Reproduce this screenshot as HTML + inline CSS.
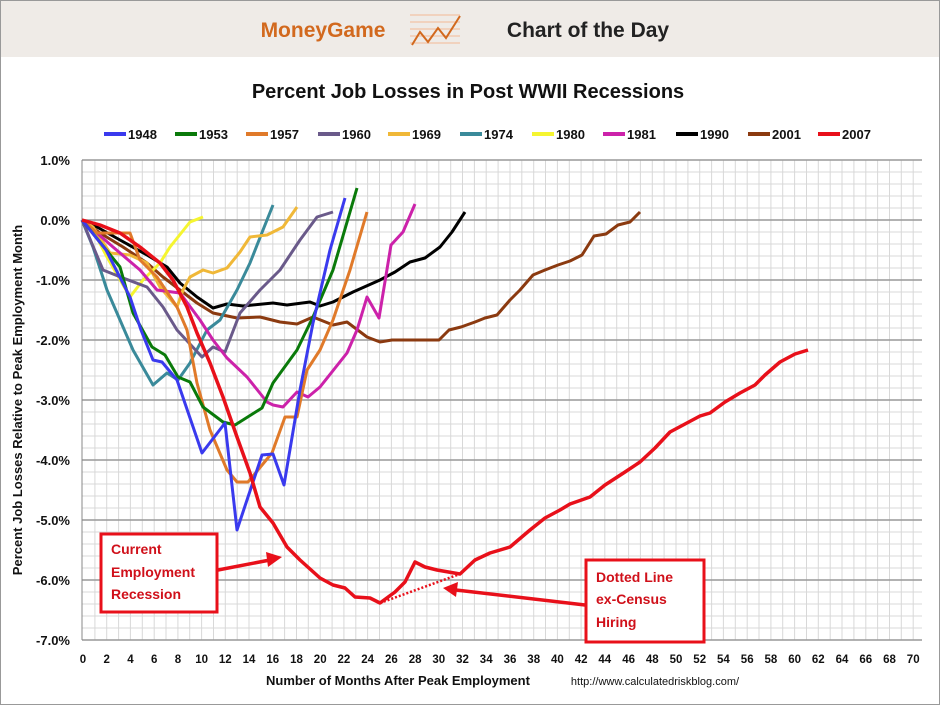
<!DOCTYPE html>
<html><head><meta charset="utf-8"><style>
body{margin:0;width:940px;height:705px;overflow:hidden;background:#fff;font-family:"Liberation Sans",sans-serif;}
</style></head><body>
<svg width="940" height="705" xmlns="http://www.w3.org/2000/svg" font-family="Liberation Sans, sans-serif">
<rect x="0.5" y="0.5" width="939" height="704" fill="#fff" stroke="#999"/>
<rect x="1" y="1" width="938" height="56" fill="#efebe7"/>
<text x="323" y="37" font-size="21" font-weight="bold" fill="#d2691e" text-anchor="middle">MoneyGame</text>
<g stroke="#f2c9b0" stroke-width="1.5"><line x1="410" y1="15" x2="460" y2="15"/><line x1="410" y1="22" x2="460" y2="22"/><line x1="410" y1="29" x2="460" y2="29"/><line x1="410" y1="36" x2="460" y2="36"/><line x1="410" y1="43" x2="460" y2="43"/></g>
<polyline points="412,45 420,32 428,42 438,28 446,38 460,16" fill="none" stroke="#d2691e" stroke-width="2"/>
<text x="588" y="37" font-size="21" font-weight="bold" fill="#222" text-anchor="middle">Chart of the Day</text>
<text x="468" y="98" font-size="20" font-weight="bold" fill="#111" text-anchor="middle">Percent Job Losses in Post WWII Recessions</text>
<g font-size="13" font-weight="bold" fill="#111">
<rect x="104" y="132" width="22" height="4" fill="#3a3aee"/><text x="128" y="139">1948</text>
<rect x="175" y="132" width="22" height="4" fill="#0a7a0a"/><text x="199" y="139">1953</text>
<rect x="246" y="132" width="22" height="4" fill="#e07a2a"/><text x="270" y="139">1957</text>
<rect x="318" y="132" width="22" height="4" fill="#6a5a8a"/><text x="342" y="139">1960</text>
<rect x="388" y="132" width="22" height="4" fill="#f0b838"/><text x="412" y="139">1969</text>
<rect x="460" y="132" width="22" height="4" fill="#3a8a9a"/><text x="484" y="139">1974</text>
<rect x="532" y="132" width="22" height="4" fill="#f5f530"/><text x="556" y="139">1980</text>
<rect x="603" y="132" width="22" height="4" fill="#cc22aa"/><text x="627" y="139">1981</text>
<rect x="676" y="132" width="22" height="4" fill="#000"/><text x="700" y="139">1990</text>
<rect x="748" y="132" width="22" height="4" fill="#8b3a10"/><text x="772" y="139">2001</text>
<rect x="818" y="132" width="22" height="4" fill="#e8101a"/><text x="842" y="139">2007</text>
</g>
<g id="grid" stroke="#d8d8d8" stroke-width="1">
<!-- minor horizontals -->
<path d="M82 172H922M82 184H922M82 196H922M82 208H922M82 232H922M82 244H922M82 256H922M82 268H922M82 292H922M82 304H922M82 316H922M82 328H922M82 352H922M82 364H922M82 376H922M82 388H922M82 412H922M82 424H922M82 436H922M82 448H922M82 472H922M82 484H922M82 496H922M82 508H922M82 532H922M82 544H922M82 556H922M82 568H922M82 592H922M82 604H922M82 616H922M82 628H922"/>
<path d="M94.9 160V640M106.7 160V640M118.6 160V640M130.4 160V640M142.3 160V640M154.2 160V640M166 160V640M177.9 160V640M189.7 160V640M201.6 160V640M213.5 160V640M225.3 160V640M237.2 160V640M249 160V640M260.9 160V640M272.8 160V640M284.6 160V640M296.5 160V640M308.3 160V640M320.2 160V640M332.1 160V640M343.9 160V640M355.8 160V640M367.6 160V640M379.5 160V640M391.4 160V640M403.2 160V640M415.1 160V640M426.9 160V640M438.8 160V640M450.7 160V640M462.5 160V640M474.4 160V640M486.2 160V640M498.1 160V640M510 160V640M521.8 160V640M533.7 160V640M545.5 160V640M557.4 160V640M569.3 160V640M581.1 160V640M593 160V640M604.8 160V640M616.7 160V640M628.6 160V640M640.4 160V640M652.3 160V640M664.1 160V640M676 160V640M687.9 160V640M699.7 160V640M711.6 160V640M723.4 160V640M735.3 160V640M747.2 160V640M759 160V640M770.9 160V640M782.7 160V640M794.6 160V640M806.5 160V640M818.3 160V640M830.2 160V640M842 160V640M853.9 160V640M865.8 160V640M877.6 160V640M889.5 160V640M901.3 160V640M913.2 160V640"/>
</g>
<g stroke="#999" stroke-width="1.5"><path d="M82 160H922M82 220H922M82 280H922M82 340H922M82 400H922M82 460H922M82 520H922M82 580H922M82 640H922"/></g>
<line x1="82" y1="160" x2="82" y2="640" stroke="#888"/>
<g font-size="13" font-weight="bold" fill="#111" text-anchor="end">
<text x="70" y="165">1.0%</text><text x="70" y="225">0.0%</text><text x="70" y="285">-1.0%</text><text x="70" y="345">-2.0%</text><text x="70" y="405">-3.0%</text><text x="70" y="465">-4.0%</text><text x="70" y="525">-5.0%</text><text x="70" y="585">-6.0%</text><text x="70" y="645">-7.0%</text>
</g>
<text transform="translate(22,400) rotate(-90)" font-size="13" font-weight="bold" fill="#111" text-anchor="middle">Percent Job Losses Relative to Peak Employment Month</text>
<g font-size="11.5" font-weight="bold" fill="#111" text-anchor="middle">
<text x="83" y="663">0</text><text x="106.7" y="663">2</text><text x="130.4" y="663">4</text><text x="154.2" y="663">6</text><text x="177.9" y="663">8</text><text x="201.6" y="663">10</text><text x="225.3" y="663">12</text><text x="249" y="663">14</text><text x="272.8" y="663">16</text><text x="296.5" y="663">18</text><text x="320.2" y="663">20</text><text x="343.9" y="663">22</text><text x="367.6" y="663">24</text><text x="391.4" y="663">26</text><text x="415.1" y="663">28</text><text x="438.8" y="663">30</text><text x="462.5" y="663">32</text><text x="486.2" y="663">34</text><text x="510" y="663">36</text><text x="533.7" y="663">38</text><text x="557.4" y="663">40</text><text x="581.1" y="663">42</text><text x="604.8" y="663">44</text><text x="628.6" y="663">46</text><text x="652.3" y="663">48</text><text x="676" y="663">50</text><text x="699.7" y="663">52</text><text x="723.4" y="663">54</text><text x="747.2" y="663">56</text><text x="770.9" y="663">58</text><text x="794.6" y="663">60</text><text x="818.3" y="663">62</text><text x="842" y="663">64</text><text x="865.8" y="663">66</text><text x="889.5" y="663">68</text><text x="913.2" y="663">70</text>
</g>
<text x="398" y="685" font-size="13" font-weight="bold" fill="#111" text-anchor="middle">Number of Months After Peak Employment</text>
<text x="655" y="685" font-size="11" fill="#111" text-anchor="middle">http://www.calculatedriskblog.com/</text>
<g fill="none" stroke-width="3" stroke-linejoin="round">
<polyline stroke="#8b3a10" points="82,220 100,233 123,247 147,263 163,277 180,290 197,303 213,313 237,318 260,317 280,322 297,324 313,317 333,325 347,322 367,337 380,342 392,340 415,340 439,340 449,330 461,327 475,322 485,318 497,315 510,300 520,290 533,275 545,270 558,265 570,261 582,255 594,236 606,234 618,225 630,222 640,212"/>
<polyline stroke="#000" points="82,220 97,227 120,240 147,255 167,267 180,283 197,297 213,308 227,304 243,306 273,303 287,305 310,302 320,306 333,302 353,292 380,280 395,272 410,262 425,258 440,247 452,232 465,212"/>
<polyline stroke="#3a8a9a" points="82,220 93,247 107,290 120,320 133,350 153,385 167,373 178,380 190,363 207,330 220,320 237,290 250,263 263,230 273,205"/>
<polyline stroke="#f5f530" points="82,220 93,230 107,257 130,297 143,280 160,263 170,247 190,222 203,217"/>
<polyline stroke="#f0b838" points="82,220 93,227 110,253 130,255 147,263 160,287 177,307 183,290 190,277 203,270 213,273 227,268 240,252 250,237 267,235 283,227 297,207"/>
<polyline stroke="#6a5a8a" points="82,220 103,270 123,278 147,287 163,307 177,330 202,357 213,347 225,352 240,313 260,290 280,270 300,240 317,217 333,212"/>
<polyline stroke="#cc22aa" points="82,220 113,247 140,270 157,290 180,293 200,320 213,340 227,358 247,377 267,402 273,405 283,407 297,392 308,397 320,387 347,353 357,330 367,297 379,318 391,245 403,232 415,204"/>
<polyline stroke="#e07a2a" points="82,220 97,233 130,233 140,260 157,277 177,307 187,330 197,383 210,430 227,470 237,482 248,482 272,453 285,417 297,417 307,370 320,350 333,320 350,270 367,212"/>
<polyline stroke="#0a7a0a" points="82,220 120,267 133,313 152,347 165,355 178,377 190,382 203,407 223,422 235,425 262,408 273,383 297,350 313,317 333,270 357,188"/>
<polyline stroke="#3a3aee" points="82,220 106,250 130,297 141,330 153,360 162,362 177,380 202,453 225,423 237,530 262,455 273,454 284,485 300,390 313,323 330,250 345,198"/>
<polyline stroke="#e8101a" stroke-width="3.5" points="82,220 100,225 120,233 140,247 160,263 173,280 187,307 197,333 210,363 223,397 237,437 250,473 260,507 273,523 287,547 300,560 320,578 333,585 345,588 355,597 370,598 380,603 395,592 405,582 415,562 425,567 437,570 460,574 475,560 490,553 510,547 530,530 545,518 560,510 570,504 590,497 605,485 625,472 640,462 655,448 670,432 685,424 700,416 710,413 725,402 740,393 755,385 765,375 780,362 795,354 808,350"/>
<line x1="380" y1="603" x2="460" y2="574" stroke="#e8101a" stroke-width="2.5" stroke-dasharray="2,2"/>
</g>
<g stroke="#e8101a" stroke-width="3" fill="#fff">
<rect x="101" y="534" width="116" height="78"/>
<rect x="586" y="560" width="118" height="82"/>
</g>
<g stroke="#e8101a" stroke-width="3.5" fill="#e8101a">
<line x1="218" y1="570" x2="270" y2="560"/><polygon points="282,557 266,552 268,567" stroke="none"/>
<line x1="585" y1="605" x2="456" y2="590"/><polygon points="443,588 458,582 456,597" stroke="none"/>
</g>
<g font-size="14" font-weight="bold" fill="#d0101a">
<text x="111" y="554">Current</text><text x="111" y="577">Employment</text><text x="111" y="599">Recession</text>
<text x="596" y="582">Dotted  Line</text><text x="596" y="604">ex-Census</text><text x="596" y="627">Hiring</text>
</g>
</svg>
</body></html>
